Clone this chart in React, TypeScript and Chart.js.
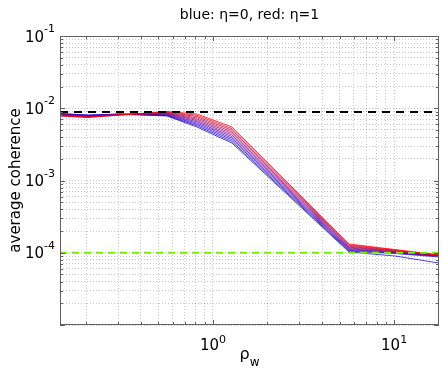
import React, { useEffect, useRef } from "react";
import { Chart, registerables } from "chart.js";
Chart.register(...registerables);

// ---- data ----
const rhoW = [0.143, 0.204, 0.306, 0.557, 0.816, 1.273, 5.64, 10.1, 17.7];
const etaLevels = [0, 0.1, 0.2, 0.3, 0.4, 0.5, 0.6, 0.7, 0.8, 0.9, 1];

const coh_eta00 = [8.46e-3, 8.06e-3, 8.32e-3, 7.81e-3, 5.50e-3, 3.30e-3, 1.024e-4, 9.02e-5, 7.21e-5];
const coh_eta01 = [8.39e-3, 8.00e-3, 8.29e-3, 7.92e-3, 5.73e-3, 3.47e-3, 1.051e-4, 9.76e-5, 8.74e-5];
const coh_eta02 = [8.32e-3, 7.93e-3, 8.27e-3, 8.03e-3, 5.98e-3, 3.66e-3, 1.078e-4, 9.90e-5, 8.97e-5];
const coh_eta03 = [8.26e-3, 7.87e-3, 8.24e-3, 8.15e-3, 6.23e-3, 3.85e-3, 1.106e-4, 1.004e-4, 9.00e-5];
const coh_eta04 = [8.19e-3, 7.81e-3, 8.21e-3, 8.27e-3, 6.49e-3, 4.05e-3, 1.134e-4, 1.017e-4, 9.05e-5];
const coh_eta05 = [8.12e-3, 7.75e-3, 8.19e-3, 8.39e-3, 6.77e-3, 4.26e-3, 1.164e-4, 1.032e-4, 9.10e-5];
const coh_eta06 = [8.06e-3, 7.69e-3, 8.16e-3, 8.52e-3, 7.06e-3, 4.49e-3, 1.194e-4, 1.047e-4, 9.15e-5];
const coh_eta07 = [8.00e-3, 7.63e-3, 8.14e-3, 8.64e-3, 7.36e-3, 4.72e-3, 1.225e-4, 1.061e-4, 9.20e-5];
const coh_eta08 = [7.93e-3, 7.57e-3, 8.11e-3, 8.77e-3, 7.67e-3, 4.97e-3, 1.256e-4, 1.078e-4, 9.24e-5];
const coh_eta09 = [7.87e-3, 7.51e-3, 8.08e-3, 8.90e-3, 7.99e-3, 5.23e-3, 1.289e-4, 1.092e-4, 9.28e-5];
const coh_eta10 = [7.81e-3, 7.45e-3, 8.06e-3, 9.02e-3, 8.33e-3, 5.50e-3, 1.322e-4, 1.109e-4, 9.31e-5];

const coherenceSeries = [
  coh_eta00, coh_eta01, coh_eta02, coh_eta03, coh_eta04, coh_eta05,
  coh_eta06, coh_eta07, coh_eta08, coh_eta09, coh_eta10,
];

const upperBound = 0.00887;
const noiseFloor = 1.0e-4;

const xRange = [0.143, 17.7];
const yRange = [1e-5, 1e-1];
const xTickExponents = [0, 1];
const yTickExponents = [-4, -3, -2, -1];

const titleText = "blue: η=0, red: η=1";
const yLabelText = "average coherence";
const xLabelMain = "ρ";
const xLabelSub = "w";

// ---- helpers ----
function decadeGrid(min: number, max: number) {
  const out: number[] = [];
  const e0 = Math.floor(Math.log10(min));
  const e1 = Math.ceil(Math.log10(max));
  for (let e = e0; e <= e1; e++) {
    for (let m = 1; m <= 9; m++) {
      const v = m * Math.pow(10, e);
      if (v >= min * 0.9999 && v <= max * 1.0001) out.push(v);
    }
  }
  return out;
}
const isPow10 = (v: number) => Math.abs(Math.log10(v) - Math.round(Math.log10(v))) < 1e-9;

const xGrid = decadeGrid(xRange[0], xRange[1]);
const yGrid = decadeGrid(yRange[0], yRange[1]);

const FONT = "'DejaVu Sans', sans-serif";

const decorPlugin = {
  id: "decor",
  afterDraw(chart: any) {
    const { ctx, chartArea: a, scales } = chart;
    const xs = scales.x;
    const ys = scales.y;
    ctx.save();
    // tick marks (inside)
    ctx.strokeStyle = "#606060";
    ctx.lineWidth = 1;
    ctx.setLineDash([]);
    ctx.beginPath();
    for (const v of xGrid) {
      const px = Math.round(xs.getPixelForValue(v)) + 0.5;
      const len = isPow10(v) ? 5 : 3;
      ctx.moveTo(px, a.bottom);
      ctx.lineTo(px, a.bottom - len);
      ctx.moveTo(px, a.top);
      ctx.lineTo(px, a.top + len);
    }
    for (const v of yGrid) {
      const py = Math.round(ys.getPixelForValue(v)) + 0.5;
      const len = isPow10(v) ? 5 : 3;
      ctx.moveTo(a.left, py);
      ctx.lineTo(a.left + len, py);
      ctx.moveTo(a.right, py);
      ctx.lineTo(a.right - len, py);
    }
    ctx.stroke();
    // box
    ctx.strokeRect(
      Math.round(a.left) + 0.5,
      Math.round(a.top) + 0.5,
      Math.round(a.right - a.left) - 1,
      Math.round(a.bottom - a.top) - 1
    );

    ctx.fillStyle = "#000";
    // y tick labels
    for (const e of yTickExponents) {
      const py = ys.getPixelForValue(Math.pow(10, e));
      const expStr = String(e);
      ctx.font = `11px ${FONT}`;
      const ew = ctx.measureText(expStr).width;
      ctx.font = `15px ${FONT}`;
      const bw = ctx.measureText("10").width;
      const right = a.left - 5;
      ctx.textAlign = "left";
      ctx.textBaseline = "alphabetic";
      ctx.fillText("10", right - ew - bw, py + 5.5);
      ctx.font = `11px ${FONT}`;
      ctx.fillText(expStr, right - ew, py - 4);
    }
    // x tick labels
    for (const e of xTickExponents) {
      const px = xs.getPixelForValue(Math.pow(10, e));
      const expStr = String(e);
      ctx.font = `11px ${FONT}`;
      const ew = ctx.measureText(expStr).width;
      ctx.font = `15px ${FONT}`;
      const bw = ctx.measureText("10").width;
      const left = px - (ew + bw) / 2;
      ctx.textAlign = "left";
      ctx.textBaseline = "alphabetic";
      ctx.fillText("10", left, 350);
      ctx.font = `11px ${FONT}`;
      ctx.fillText(expStr, left + bw, 343);
    }
    // title
    const cx = (a.left + a.right) / 2;
    ctx.font = `14px ${FONT}`;
    ctx.textAlign = "center";
    ctx.fillText(titleText, cx, 18.5);
    // x label
    ctx.font = `16px ${FONT}`;
    const rw = ctx.measureText(xLabelMain).width;
    ctx.font = `12px ${FONT}`;
    const sw = ctx.measureText(xLabelSub).width;
    const lx = cx - (rw + sw) / 2;
    ctx.textAlign = "left";
    ctx.font = `16px ${FONT}`;
    ctx.fillText(xLabelMain, lx, 359);
    ctx.font = `12px ${FONT}`;
    ctx.fillText(xLabelSub, lx + rw, 366);
    // y label
    ctx.save();
    ctx.translate(20, (a.top + a.bottom) / 2);
    ctx.rotate(-Math.PI / 2);
    ctx.font = `15px ${FONT}`;
    ctx.textAlign = "center";
    ctx.fillText(yLabelText, 0, 0);
    ctx.restore();
    ctx.restore();
  },
};

export default function App() {
  const ref = useRef<HTMLCanvasElement | null>(null);
  useEffect(() => {
    document.body.style.margin = "0";
    const canvas = ref.current;
    if (!canvas) return;

    const etaDatasets = etaLevels
      .map((eta, i) => ({
        label: `eta=${eta}`,
        data: rhoW.map((x, j) => ({ x, y: coherenceSeries[i][j] })),
        borderColor: `rgba(${Math.round(255 * eta)},0,${Math.round(255 * (1 - eta))},0.75)`,
        borderWidth: 1,
        pointRadius: 0,
        tension: 0,
        fill: false,
      }))
      .reverse();

    const datasets = [
      {
        label: "bound",
        data: [
          { x: xRange[0], y: upperBound },
          { x: xRange[1], y: upperBound },
        ],
        borderColor: "#000",
        borderWidth: 2,
        borderDash: [8, 6],
        pointRadius: 0,
        fill: false,
      },
      {
        label: "floor",
        data: [
          { x: xRange[0], y: noiseFloor },
          { x: xRange[1], y: noiseFloor },
        ],
        borderColor: "rgb(115,240,0)",
        borderWidth: 2,
        borderDash: [7, 5],
        pointRadius: 0,
        fill: false,
      },
      ...etaDatasets,
    ];

    const gridCommon = {
      color: "rgba(0,0,0,0.22)",
      lineWidth: 1,
      drawTicks: false,
    };

    const chart = new Chart(canvas, {
      type: "line",
      data: { datasets } as any,
      options: {
        responsive: false,
        maintainAspectRatio: false,
        animation: false,
        layout: { padding: { top: 36, right: 4, left: 0, bottom: 0 } },
        plugins: {
          legend: { display: false },
          title: { display: false },
          tooltip: { enabled: false },
        },
        elements: { point: { radius: 0 }, line: { tension: 0 } },
        scales: {
          x: {
            type: "logarithmic",
            min: xRange[0],
            max: xRange[1],
            ticks: { display: false },
            grid: gridCommon,
            border: { display: false, dash: [1, 2] },
            afterBuildTicks: (s: any) => {
              s.ticks = xGrid.map((v) => ({ value: v }));
            },
            afterFit: (s: any) => {
              s.height = 47;
            },
          },
          y: {
            type: "logarithmic",
            min: yRange[0],
            max: yRange[1],
            ticks: { display: false },
            grid: gridCommon,
            border: { display: false, dash: [1, 2] },
            afterBuildTicks: (s: any) => {
              s.ticks = yGrid.map((v) => ({ value: v }));
            },
            afterFit: (s: any) => {
              s.width = 60;
            },
          },
        },
      } as any,
      plugins: [decorPlugin],
    });
    return () => chart.destroy();
  }, []);

  return (
    <canvas
      ref={ref}
      width={443}
      height={372}
      style={{ display: "block", width: 443, height: 372 }}
    />
  );
}
